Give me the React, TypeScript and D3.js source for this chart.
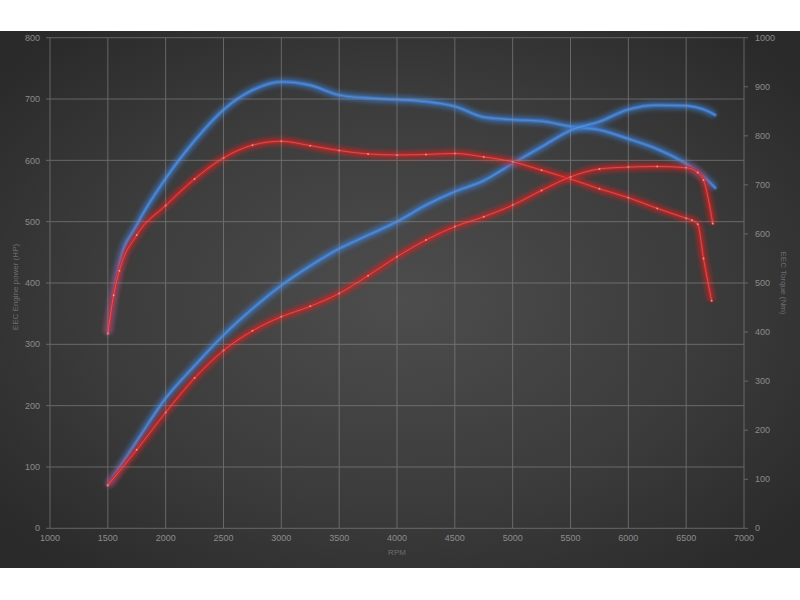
import React from 'react'
import * as d3 from 'd3'

// RPM samples and readings (HP for power, Nm for torque)
const bluePowerRpm = [1500, 1750, 2000, 2250, 2500, 2750, 3000, 3250, 3500, 3750, 4000, 4250, 4500, 4750, 5000, 5250, 5500, 5750, 6000, 6250, 6500, 6650, 6750]
const bluePowerHp = [70, 142, 212, 265, 315, 358, 396, 428, 456, 478, 500, 527, 549, 567, 595, 622, 649, 663, 683, 690, 689, 683, 674]

const redPowerRpm = [1500, 1750, 2000, 2250, 2500, 2750, 3000, 3250, 3500, 3750, 4000, 4250, 4500, 4750, 5000, 5250, 5500, 5750, 6000, 6250, 6500, 6600, 6650, 6730]
const redPowerHp = [70, 128, 189, 245, 290, 322, 345, 362, 383, 412, 443, 470, 492, 508, 527, 551, 573, 586, 589, 590, 588, 580, 568, 497]

const blueTorqueRpm = [1500, 1550, 1600, 1750, 2000, 2250, 2500, 2750, 3000, 3250, 3500, 3750, 4000, 4250, 4500, 4750, 5000, 5250, 5500, 5750, 6000, 6250, 6500, 6650, 6750]
const blueTorqueNm = [397, 480, 540, 618, 713, 790, 853, 893, 910, 903, 883, 877, 874, 870, 860, 838, 833, 830, 819, 812, 794, 773, 743, 717, 694]

const redTorqueRpm = [1500, 1550, 1600, 1750, 2000, 2250, 2500, 2750, 3000, 3250, 3500, 3750, 4000, 4250, 4500, 4750, 5000, 5250, 5500, 5750, 6000, 6250, 6500, 6550, 6600, 6650, 6720]
const redTorqueNm = [397, 475, 525, 598, 658, 712, 755, 781, 789, 780, 770, 763, 761, 762, 764, 757, 747, 730, 712, 692, 674, 652, 632, 628, 620, 550, 464]

const rpmTicks = [1000, 1500, 2000, 2500, 3000, 3500, 4000, 4500, 5000, 5500, 6000, 6500, 7000]
const hpTicks = [0, 100, 200, 300, 400, 500, 600, 700, 800]
const nmTicks = [0, 100, 200, 300, 400, 500, 600, 700, 800, 900, 1000]

const W = 800
const H = 600
const left = 50
const right = 744
const top = 37.7
const bottom = 528.3

type Pt = { x: number; y: number }

const zip = (xs: number[], ys: number[]): Pt[] => xs.map((x, i) => ({ x, y: ys[i] }))

export default function App() {
  const x = d3.scaleLinear().domain([1000, 7000]).range([left, right])
  const yHp = d3.scaleLinear().domain([0, 800]).range([bottom, top])
  const yNm = d3.scaleLinear().domain([0, 1000]).range([bottom, top])

  const lineHp = d3
    .line<Pt>()
    .x(d => x(d.x))
    .y(d => yHp(d.y))
    .curve(d3.curveMonotoneX)
  const lineNm = d3
    .line<Pt>()
    .x(d => x(d.x))
    .y(d => yNm(d.y))
    .curve(d3.curveMonotoneX)

  const blue = { color: '#3a7bd2', glow: '#3f86e0', core: '#5e98e4', width: 3.5, coreWidth: 1.4 }
  const red = { color: '#c92424', glow: '#e02222', core: '#f05a5a', width: 3, coreWidth: 1 }

  const series = [
    { key: 'bt', d: lineNm(zip(blueTorqueRpm, blueTorqueNm)) || '', ...blue, dots: [] as Pt[] },
    { key: 'bp', d: lineHp(zip(bluePowerRpm, bluePowerHp)) || '', ...blue, dots: [] as Pt[] },
    {
      key: 'rt',
      d: lineNm(zip(redTorqueRpm, redTorqueNm)) || '',
      ...red,
      dots: zip(redTorqueRpm, redTorqueNm).map(p => ({ x: x(p.x), y: yNm(p.y) })),
    },
    {
      key: 'rp',
      d: lineHp(zip(redPowerRpm, redPowerHp)) || '',
      ...red,
      dots: zip(redPowerRpm, redPowerHp).map(p => ({ x: x(p.x), y: yHp(p.y) })),
    },
  ]

  const font = '"Liberation Sans", Arial, sans-serif'

  return (
    <div style={{ position: 'absolute', left: 0, top: 0, width: W, height: H, background: '#fff' }}>
      <svg width={W} height={H} style={{ display: 'block' }}>
        <defs>
          <radialGradient id="bg" cx="50%" cy="50%" r="65%">
            <stop offset="0%" stopColor="#4d4d4d" />
            <stop offset="60%" stopColor="#3b3b3b" />
            <stop offset="100%" stopColor="#2a2a2a" />
          </radialGradient>
          <filter id="glow" x="-5%" y="-5%" width="110%" height="110%">
            <feGaussianBlur stdDeviation="2.4" />
          </filter>
        </defs>
        <rect x={0} y={31} width={W} height={537} fill="url(#bg)" />

        {/* curves */}
        {series.map(s => (
          <g key={s.key} opacity={0.88}>
            <path d={s.d} fill="none" stroke={s.glow} strokeWidth={7} opacity={0.7} filter="url(#glow)" />
            <path d={s.d} fill="none" stroke={s.color} strokeWidth={s.width} strokeLinecap="round" />
            <path d={s.d} fill="none" stroke={s.core} strokeWidth={s.coreWidth} opacity={0.85} />
            {s.dots.map((p, i) => (
              <circle key={i} cx={p.x} cy={p.y} r={1} fill="#ff9a9a" />
            ))}
          </g>
        ))}

        {/* grid */}
        <g stroke="#8a8a8a" strokeWidth={1} opacity={0.6}>
          {rpmTicks.map(t => (
            <line key={'v' + t} x1={x(t)} x2={x(t)} y1={top} y2={bottom} />
          ))}
          {hpTicks.map(t => (
            <line key={'h' + t} x1={left - 4} x2={right} y1={yHp(t)} y2={yHp(t)} />
          ))}
          {nmTicks.map(t => (
            <line key={'n' + t} x1={right} x2={right + 4} y1={yNm(t)} y2={yNm(t)} />
          ))}
        </g>

        {/* tick labels */}
        <g fontFamily={font} fontSize={9} fill="#8c8c8c">
          {hpTicks.map(t => (
            <text key={'lh' + t} x={left - 10} y={yHp(t)} dy="0.35em" textAnchor="end">
              {t}
            </text>
          ))}
          {nmTicks.map(t => (
            <text key={'ln' + t} x={right + 11} y={yNm(t)} dy="0.35em" textAnchor="start">
              {t}
            </text>
          ))}
          {rpmTicks.map(t => (
            <text key={'lx' + t} x={x(t)} y={bottom + 13} textAnchor="middle">
              {t}
            </text>
          ))}
        </g>

        {/* axis titles */}
        <g fontFamily={font} fontSize={8} fill="#6e6e6e">
          <text transform={`translate(18, ${(top + bottom) / 2 + 4}) rotate(-90)`} textAnchor="middle">
            EEC Engine power (HP)
          </text>
          <text transform={`translate(781, ${(top + bottom) / 2}) rotate(90)`} textAnchor="middle">
            EEC Torque (Nm)
          </text>
          <text x={(left + right) / 2} y={555} textAnchor="middle">
            RPM
          </text>
        </g>
      </svg>
    </div>
  )
}
